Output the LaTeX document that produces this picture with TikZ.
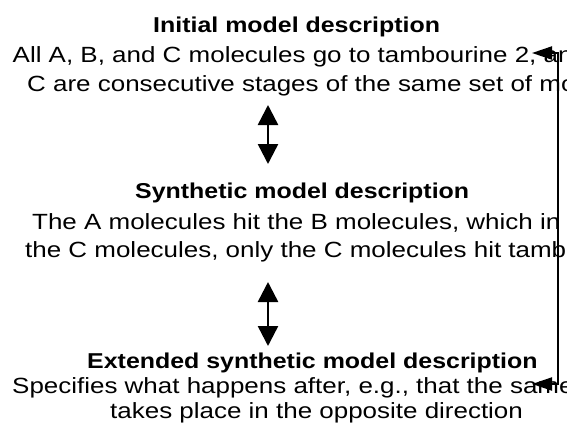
\documentclass[tikz,border=0pt]{standalone}
\usepackage{fontspec}
\setmainfont{Liberation Sans}
\newfontfamily\bodyfont[FakeStretch=1.18]{Liberation Sans}
\newfontfamily\titlefont[FakeStretch=1.16]{Liberation Sans Bold}
\usetikzlibrary{arrows.meta}
\begin{document}
\begin{tikzpicture}[x=1pt,y=-1pt,
  titletext/.style={anchor=base west,inner sep=0pt,font=\titlefont\fontsize{21.5}{24}\selectfont},
  bodytext/.style={anchor=base west,inner sep=0pt,font=\bodyfont\fontsize{22}{26}\selectfont},
  dblarr/.style={line width=2.5pt,{Triangle[length=20pt,width=20pt]}-{Triangle[length=20pt,width=20pt]}},
  sidearr/.style={line width=2pt,{Triangle[length=20pt,width=13pt]}-{Triangle[length=20pt,width=13pt]}}]
\useasboundingbox (0,0) rectangle (567,428);
\clip (0,0) rectangle (567,428);
\fill[white] (0,0) rectangle (567,428);
% block 1
\node[titletext] (T1) at (153,33) {Initial model description};
\node[bodytext] (L1a) at (12.5,63) {All A, B, and C molecules go to tambourine 2, and};
\node[bodytext] (L1b) at (27,92) {C are consecutive stages of the same set of molecules};
% block 2
\node[titletext] (T2) at (135,198) {Synthetic model description};
\node[bodytext] (L2a) at (32,229) {The A molecules hit the B molecules, which in};
\node[bodytext] (L2b) at (25,257) {the C molecules, only the C molecules hit tambourine};
% block 3
\node[titletext] (T3) at (87,368) {Extended synthetic model description};
\node[bodytext] (L3a) at (12,393) {Specifies what happens after, e.g., that the same};
\node[bodytext] (L3b) at (110,418) {takes place in the opposite direction};
% connectors
\coordinate (ax) at (268,0);
\draw[dblarr,shorten <=13pt,shorten >=34pt] (L1b.base -| ax) -- (T2.base -| ax);
\draw[dblarr,shorten <=25pt,shorten >=22pt] (L2b.base -| ax) -- (T3.base -| ax);
\coordinate (e1) at (532,53);
\coordinate (k1) at (558,53);
\coordinate (k2) at (558,384);
\coordinate (e2) at (532,384);
\draw[sidearr] (e1) -- (k1) -- (k2) -- (e2);
\end{tikzpicture}
\end{document}
